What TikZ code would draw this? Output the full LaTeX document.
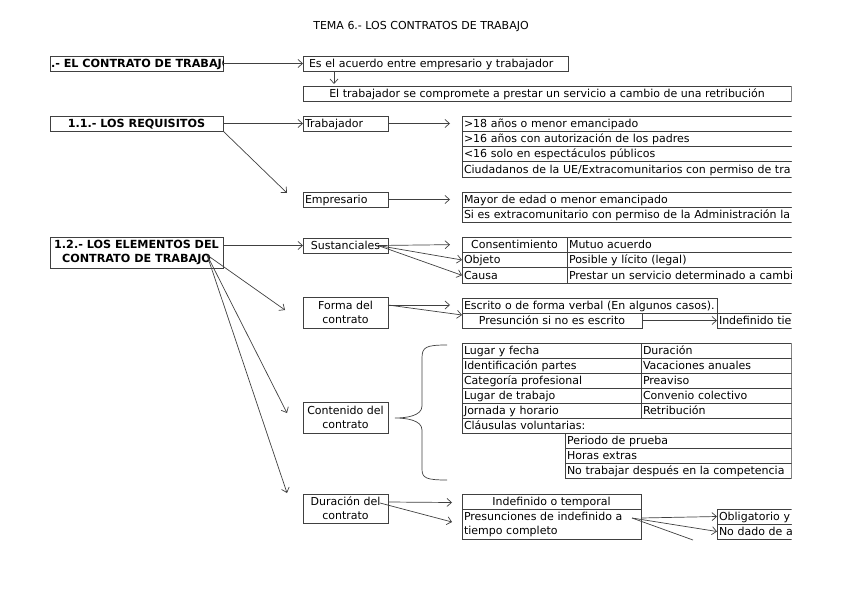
\documentclass[tikz,border=0pt]{standalone}
\usepackage{fontspec}
\setmainfont{DejaVu Sans}
\usetikzlibrary{calc, arrows.meta}

\begin{document}
\begin{tikzpicture}[
  x=1pt, y=-1pt,
  every node/.style={font=\fontsize{11}{14}\selectfont},
  box/.style={draw=black!75, line width=0.8pt, anchor=north west, outer sep=0pt,
    inner xsep=2pt, inner ysep=0pt, minimum height=15pt},
  one/.style={text height=9pt, text depth=1.6pt},
  row/.style={box, one, text width=#1, align=left},
  crow/.style={box, one, minimum width=#1},
  two/.style={box, minimum width=85pt, minimum height=#1, align=center},
  bold/.style={font=\fontsize{11.2}{14}\selectfont\bfseries},
  arr/.style={-{Straight Barb[length=4.5pt,width=8pt]}, draw=black!75, line width=0.7pt},
  plain/.style={draw=black!75, line width=0.7pt}
]
\useasboundingbox (0,0) rectangle (848,599);
\clip (0,0) rectangle (791.6,599);

\node (title) at (421,27) {TEMA 6.- LOS CONTRATOS DE TRABAJO};

% 1.- el contrato
\node[box, minimum width=173pt] (ctr) at (50,56) {};
\begin{scope}
  \clip (ctr.north west) rectangle (ctr.south east);
  \node[bold, one, anchor=west, inner sep=0pt] at ($(ctr.west)+(0.8,0)$) {.- EL CONTRATO DE TRABAJO};
\end{scope}
\node[row=253pt, inner xsep=6pt] (def) at (303,56) {Es el acuerdo entre empresario y trabajador};
\node[crow=488pt] (serv) at (303,86) {El trabajador se compromete a prestar un servicio a cambio de una retribución};

% 1.1.- requisitos
\node[crow=173pt, bold] (req) at (50,116) {1.1.- LOS REQUISITOS};
\node[row=81pt] (trab) at (303,116) {Trabajador};
\node[row=336pt, minimum height=15.25pt] (trab1) at (462,116) {>18 años o menor emancipado};
\node[row=336pt, minimum height=15.25pt] (trab2) at (trab1.south west) {>16 años con autorización de los padres};
\node[row=336pt, minimum height=15.25pt] (trab3) at (trab2.south west) {<16 solo en espectáculos públicos};
\node[row=336pt, minimum height=15.25pt] (trab4) at (trab3.south west) {Ciudadanos de la UE/Extracomunitarios con permiso de tra};

\node[row=81pt] (emp) at (303,192) {Empresario};
\node[row=336pt] (emp1) at (462,192) {Mayor de edad o menor emancipado};
\node[row=336pt] (emp2) at (emp1.south west) {Si es extracomunitario con permiso de la Administración la};

% 1.2.- elementos
\node[box, bold, minimum width=173pt, minimum height=31pt, align=center] (elem) at (50,237) {1.2.- LOS ELEMENTOS DEL\\CONTRATO DE TRABAJO};

\node[crow=85pt] (sust) at (303,238) {Sustanciales};
\node[crow=105pt, minimum height=15.33pt] (cons) at (462,237) {Consentimiento};
\node[row=236pt, minimum height=15.33pt] (cons2) at (cons.north east) {Mutuo acuerdo};
\node[row=101pt, minimum height=15.33pt] (obj) at (cons.south west) {Objeto};
\node[row=236pt, minimum height=15.33pt] (obj2) at (obj.north east) {Posible y lícito (legal)};
\node[row=101pt, minimum height=15.33pt] (causa) at (obj.south west) {Causa};
\node[row=236pt, minimum height=15.33pt] (causa2) at (causa.north east) {Prestar un servicio determinado a cambi};

\node[two=31pt] (forma) at (303,297) {Forma del\\contrato};
\node[row=251pt] (escr) at (462,298) {Escrito o de forma verbal (En algunos casos).};
\node[crow=180pt] (pres) at (escr.south west) {Presunción si no es escrito};
\node[row=96pt] (indef) at (717,313) {Indefinido tie};

\node[two=31pt] (cont) at (303,402) {Contenido del\\contrato};
\node[row=175pt] (lug) at (462,343) {Lugar y fecha};
\node[row=146pt] (dur) at (lug.north east) {Duración};
\node[row=175pt] (ident) at (lug.south west) {Identificación partes};
\node[row=146pt] (vac) at (ident.north east) {Vacaciones anuales};
\node[row=175pt] (cat) at (ident.south west) {Categoría profesional};
\node[row=146pt] (prea) at (cat.north east) {Preaviso};
\node[row=175pt] (lugt) at (cat.south west) {Lugar de trabajo};
\node[row=146pt] (conv) at (lugt.north east) {Convenio colectivo};
\node[row=175pt] (jorn) at (lugt.south west) {Jornada y horario};
\node[row=146pt] (retr) at (jorn.north east) {Retribución};
\node[row=325pt] (claus) at (jorn.south west) {Cláusulas voluntarias:};
\node[row=222pt] (prueba) at ($(claus.south west)+(103,0)$) {Periodo de prueba};
\node[row=222pt] (horas) at (prueba.south west) {Horas extras};
\node[row=222pt] (comp) at (horas.south west) {No trabajar después en la competencia};

\node[two=29pt] (durc) at (303,494) {Duración del\\contrato};
\node[crow=179pt] (tipo) at (462,494) {Indefinido o temporal};
\node[box, text width=175pt, align=left, minimum height=30pt] (presu) at (tipo.south west) {Presunciones de indefinido a\\tiempo completo};
\node[row=96pt] (oblig) at (717,509) {Obligatorio y};
\node[row=96pt] (nodado) at (oblig.south west) {No dado de a};

% connectors
\draw[arr] (ctr) -- (def);
\draw[arr] ($(def.south west)+(31,0)$) -- ($(serv.north west)+(31,-2)$);
\draw[arr] (req) -- (trab);
\coordinate (t1in) at ($(trab1.west)+(-12,0)$);
\draw[arr] (trab.east) -- (trab.east -| t1in);
\draw[arr] (req.south east) -- ($(emp.north west)+(-16,1)$);
\coordinate (e1in) at ($(emp1.west)+(-12,0)$);
\draw[arr] (emp.east) -- (emp.east -| e1in);

\draw[arr] (sust.west -| elem.east) -- (sust.west);
\coordinate (s0) at ($(sust.east)+(-10,0)$);
\draw[arr] (s0) -- ($(cons.west)+(-12,0)$);
\draw[arr] (s0) -- (obj.west);
\draw[arr] (s0) -- (causa.west);

\coordinate (e0) at ($(elem.east)+(-16,2.5)$);
\draw[arr] (e0) -- ($(forma.west)+(-18,-2.5)$);
\draw[arr] (e0) -- ($(cont.west)+(-16,-4.5)$);
\draw[arr] (e0) -- ($(durc.north west)+(-16,-1)$);

\coordinate (f0) at ($(forma.north east)+(0,8)$);
\coordinate (escin) at ($(escr.west)+(-12,0)$);
\draw[arr] (f0) -- (f0 -| escin);
\draw[arr] (f0) -- ($(pres.north west)+(0,2)$);
\draw[arr] (pres) -- (indef);

% brace
\draw[plain] (447,345) .. controls (426,345) and (422,347) .. (422,358)
  -- (422,406) .. controls (422,416) and (406,418) .. (395,418)
  .. controls (406,418) and (422,420) .. (422,430)
  -- (422,469) .. controls (422,478) and (426,480) .. (447,480);

\draw[arr] ($(durc.north east)+(0,8)$) -- ($(tipo.west)+(-10,1)$);
\draw[arr] ($(durc.north east)+(-8,9)$) -- ($(presu.west)+(-10,-2)$);
\coordinate (p0) at ($(presu.north east)+(-9,9)$);
\draw[arr] (presu.east |- p0) -- (oblig.west);
\draw[arr] (p0) -- (nodado.west);
\draw[plain] (p0) -- ($(nodado.south west)+(-24,1)$);
\end{tikzpicture}
\end{document}
